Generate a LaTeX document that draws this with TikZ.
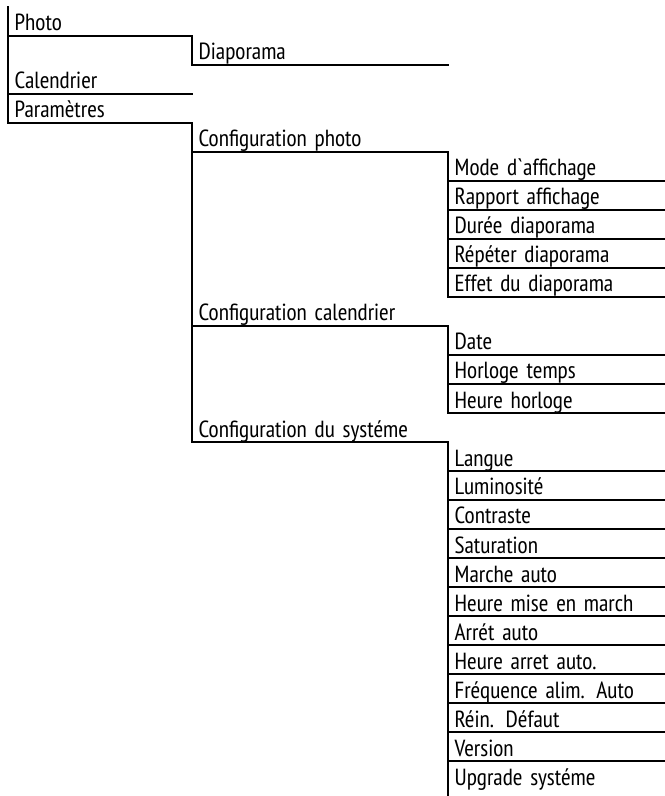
\documentclass[tikz,border=0pt]{standalone}
\usepackage{fontspec}
\setmainfont[WordSpace=0.8]{PT Sans Narrow}

\begin{document}
\begin{tikzpicture}[x=0.6pt,y=-0.6pt,
    font=\fontsize{14}{16}\selectfont,
    cell/.style={anchor=north west, inner xsep=4pt, inner ysep=0pt, outer sep=0pt,
      text height=14.4pt, text depth=3pt, align=left},
    lvl0/.style={cell, text width=102.4pt},
    lvl1/.style={cell, text width=145.6pt},
    lvl2/.style={cell, text width=122.2pt},
    rule/.style={line width=1.2pt, line cap=rect}]
    \useasboundingbox (0,0) rectangle (665,796);
    \coordinate (bottom) at (0,796);
    % main menu
    \node[lvl0] (photo) at (8,7) {Photo};
    \node[lvl1] (diapo) at (photo.south east) {Diaporama};
    \node[lvl0] (calend) at (photo.south west |- diapo.south) {Calendrier};
    \node[lvl0] (param) at (calend.south west) {Paramètres};
    % photo settings
    \node[lvl1] (cfgphoto) at (param.south east) {Configuration photo};
    \node[lvl2] (mode) at (cfgphoto.south east) {Mode d\textasciigrave affichage};
    \node[lvl2] (rapport) at (mode.south west) {Rapport affichage};
    \node[lvl2] (duree) at (rapport.south west) {Durée diaporama};
    \node[lvl2] (repeter) at (duree.south west) {Répéter diaporama};
    \node[lvl2] (effet) at (repeter.south west) {Effet du diaporama};
    % calendar settings
    \node[lvl1] (cfgcal) at (cfgphoto.south west |- effet.south) {Configuration calendrier};
    \node[lvl2] (date) at (cfgcal.south east) {Date};
    \node[lvl2] (horloge) at (date.south west) {Horloge temps};
    \node[lvl2] (heure) at (horloge.south west) {Heure horloge};
    % system settings
    \node[lvl1] (cfgsys) at (cfgcal.south west |- heure.south) {Configuration du systéme};
    \node[lvl2] (langue) at (cfgsys.south east) {Langue};
    \node[lvl2] (lumi) at (langue.south west) {Luminosité};
    \node[lvl2] (contraste) at (lumi.south west) {Contraste};
    \node[lvl2] (satur) at (contraste.south west) {Saturation};
    \node[lvl2] (marche) at (satur.south west) {Marche auto};
    \node[lvl2] (heuremise) at (marche.south west) {Heure mise en march};
    \node[lvl2] (arret) at (heuremise.south west) {Arrét auto};
    \node[lvl2] (heurearret) at (arret.south west) {Heure arret auto.};
    \node[lvl2] (freq) at (heurearret.south west) {Fréquence alim. Auto};
    \node[lvl2] (rein) at (freq.south west) {Réin. Défaut};
    \node[lvl2] (version) at (rein.south west) {Version};
    \node[lvl2] (upgrade) at (version.south west) {Upgrade systéme};
    % tree rules
    \draw[rule] (photo.north west) -- (param.south west)
      (diapo.north west) -- (diapo.south west)
      (cfgphoto.north west) -- (cfgsys.south west)
      (mode.north west) -- (effet.south west)
      (date.north west) -- (heure.south west)
      (langue.north west) -- (langue.north west |- bottom);
    \draw[rule] (photo.south west) -- (photo.south east)
      (diapo.south west) -- (diapo.south east)
      (calend.south west) -- (calend.south east)
      (param.south west) -- (param.south east)
      (cfgphoto.south west) -- (cfgphoto.south east)
      (cfgcal.south west) -- (cfgcal.south east)
      (cfgsys.south west) -- (cfgsys.south east);
    \draw[rule] (mode.south west) -- (mode.south east)
      (rapport.south west) -- (rapport.south east)
      (duree.south west) -- (duree.south east)
      (repeter.south west) -- (repeter.south east)
      (effet.south west) -- (effet.south east)
      (date.south west) -- (date.south east)
      (horloge.south west) -- (horloge.south east)
      (heure.south west) -- (heure.south east)
      (langue.south west) -- (langue.south east)
      (lumi.south west) -- (lumi.south east)
      (contraste.south west) -- (contraste.south east)
      (satur.south west) -- (satur.south east)
      (marche.south west) -- (marche.south east)
      (heuremise.south west) -- (heuremise.south east)
      (arret.south west) -- (arret.south east)
      (heurearret.south west) -- (heurearret.south east)
      (freq.south west) -- (freq.south east)
      (rein.south west) -- (rein.south east)
      (version.south west) -- (version.south east);
\end{tikzpicture}
\end{document}
